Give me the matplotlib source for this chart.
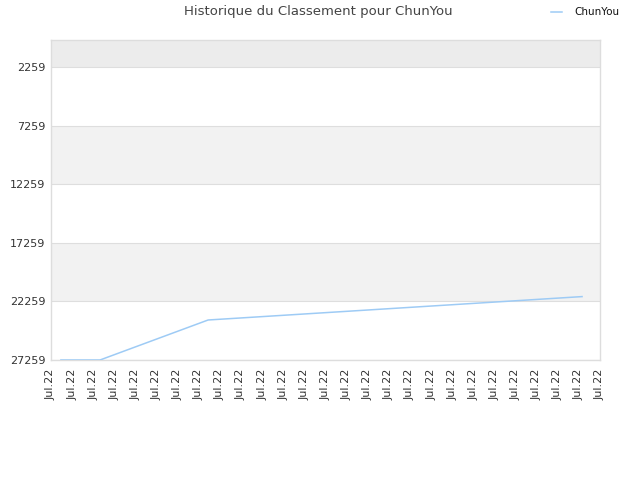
import matplotlib
matplotlib.use("Agg")
import matplotlib.pyplot as plt

# Data
series_name = "ChunYou"
x_pos = [0.47, 2.32, 7.44, 25.15]
ranks = [27259, 27259, 23846, 21849]
tick_labels = ["Jul.22"] * 27
y_ticks = [2259, 7259, 12259, 17259, 22259, 27259]

fig = plt.figure(figsize=(6.4, 4.8), dpi=100)
ax = fig.add_axes([51/640, 120/480, 549/640, 320/480])

ax.set_ylim(27259, -45)
ax.set_xlim(0, 26)

# bands
bounds = [27259, 22259, 17259, 12259, 7259, 2259, -45]
band_colors = ["#ffffff", "#f2f2f2", "#ffffff", "#f2f2f2", "#ffffff", "#ececec"]
for i in range(len(band_colors)):
    ax.axhspan(bounds[i], bounds[i+1], color=band_colors[i], zorder=0, lw=0)
for yv in y_ticks:
    ax.axhline(yv, color="#dedede", lw=0.8, zorder=1)

ax.plot(x_pos, ranks, color="#9ecbf5", lw=1.1, label=series_name, zorder=3)

ax.set_yticks(y_ticks)
ax.set_yticklabels([str(v) for v in y_ticks], fontsize=8, color="#333333")
ax.set_xticks(range(len(tick_labels)))
ax.set_xticklabels(tick_labels, rotation=90, fontsize=8, color="#333333")
ax.tick_params(axis="both", length=0, pad=4)
ax.tick_params(axis="x", pad=6)

for s in ax.spines.values():
    s.set_color("#dddddd")
    s.set_linewidth(1)

fig.text(0.497, 0.975, "Historique du Classement pour ChunYou", ha="center", va="center",
         fontsize=9.5, color="#444444")

leg = fig.legend(loc="center right", bbox_to_anchor=(0.974, 0.974), frameon=False,
                 fontsize=7.5, handlelength=1.0, handletextpad=1.2, borderaxespad=0)
for t in leg.get_texts():
    t.set_color("#111111")

fig.savefig("out.png", dpi=100)
